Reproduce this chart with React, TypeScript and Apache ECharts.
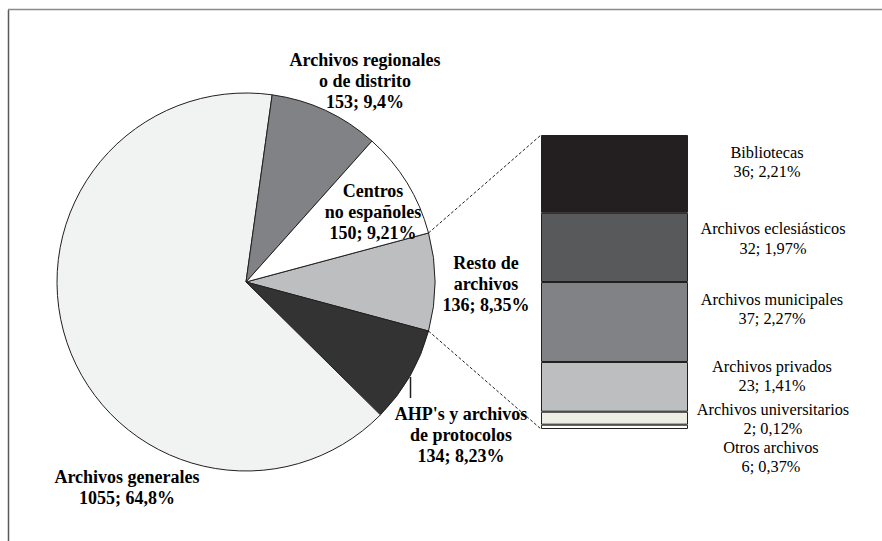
import React, { useEffect, useRef } from "react";
import * as echarts from "echarts";

// Pie (main) data, listed clockwise starting with the split-off slice
const pieNames = [
  "Resto de\narchivos",
  "AHP's y archivos\nde protocolos",
  "Archivos generales",
  "Archivos regionales\no de distrito",
  "Centros\nno españoles",
];
const pieValues = [136, 134, 1055, 153, 150];
const piePercents = ["8,35%", "8,23%", "64,8%", "9,4%", "9,21%"];
const pieColors = ["#BCBEC0", "#333333", "#F1F2F2", "#808285", "#FFFFFF"];

// Breakdown bar of "Resto de archivos", top to bottom
const barNames = [
  "Bibliotecas",
  "Archivos eclesiásticos",
  "Archivos municipales",
  "Archivos privados",
  "Otros archivos",
  "Archivos universitarios",
];
const barValues = [36, 32, 37, 23, 6, 2];
const barPercents = ["2,21%", "1,97%", "2,27%", "1,41%", "0,37%", "0,12%"];
const barColors = ["#231F20", "#58595B", "#808285", "#BCBEC0", "#EEEDE3", "#FFFFFF"];

// Layout (label anchor points, px)
const pieLabelPos = [
  [486, 284],
  [461, 435],
  [127, 487],
  [365, 81],
  [373, 212],
];
const barLabelPos = [
  [767, 162],
  [773, 238.5],
  [772, 309],
  [772, 376],
  [771, 457],
  [773, 419],
];

const FONT = "Liberation Serif";

export default function App() {
  const ref = useRef<HTMLDivElement>(null);

  useEffect(() => {
    document.body.style.margin = "0";
    if (!ref.current) return;
    const chart = echarts.init(ref.current, null, { renderer: "svg" });

    const cx = 246;
    const cy = 282;
    const r = 189;
    const total = pieValues.reduce((a, b) => a + b, 0);
    const restAngle = (pieValues[0] / total) * 360;
    const startAngle = restAngle / 2;

    const gridLeft = 541;
    const gridTop = 135;
    const gridW = 147;
    const gridH = 294;

    const a1 = (startAngle * Math.PI) / 180;
    const p1 = [cx + r * Math.cos(a1), cy - r * Math.sin(a1)];
    const p2 = [cx + r * Math.cos(-a1), cy - r * Math.sin(-a1)];

    const barSeries = barValues.map((v, i) => ({
      type: "bar",
      name: barNames[i],
      stack: "resto",
      data: [v],
      barWidth: "100%",
      itemStyle: { color: barColors[i], borderColor: "#231F20", borderWidth: 1 },
      emphasis: { disabled: true },
      label: {
        show: true,
        position: "right",
        formatter: () => `${barNames[i]}\n${v}; ${barPercents[i]}`,
        fontFamily: FONT,
        fontSize: 16.3,
        lineHeight: 19.5,
        color: "#000",
        align: "center",
      },
      labelLayout: () => ({
        x: barLabelPos[i][0],
        y: barLabelPos[i][1],
        align: "center",
        verticalAlign: "middle",
      }),
    }));

    chart.setOption({
      animation: false,
      backgroundColor: "#FFFFFF",
      textStyle: { fontFamily: FONT },
      grid: { left: gridLeft, top: gridTop, width: gridW, height: gridH },
      xAxis: { type: "category", data: ["Resto"], show: false },
      yAxis: { type: "value", min: 0, max: pieValues[0], inverse: true, show: false },
      series: [
        {
          type: "pie",
          center: [cx, cy],
          radius: r,
          startAngle,
          clockwise: true,
          avoidLabelOverlap: false,
          data: pieValues.map((v, i) => ({
            name: pieNames[i],
            value: v,
            itemStyle: { color: pieColors[i] },
          })),
          itemStyle: { borderColor: "#231F20", borderWidth: 1 },
          emphasis: { disabled: true },
          label: {
            show: true,
            position: "outside",
            formatter: (p: any) => `${pieNames[p.dataIndex]}\n${p.value}; ${piePercents[p.dataIndex]}`,
            fontFamily: FONT,
            fontWeight: "bold",
            fontSize: 18,
            lineHeight: 21,
            color: "#000",
            align: "center",
          },
          labelLine: { show: false },
          labelLayout: (p: any) => ({
            x: pieLabelPos[p.dataIndex][0],
            y: pieLabelPos[p.dataIndex][1],
            align: "center",
            verticalAlign: "middle",
          }),
        },
        ...barSeries,
      ],
      graphic: [
        {
          type: "line",
          shape: { x1: 8.5, y1: 10, x2: 8.5, y2: 541 },
          style: { stroke: "#5a5a5a", lineWidth: 1.5 },
        },
        {
          type: "line",
          shape: { x1: 8, y1: 9.5, x2: 882, y2: 9.5 },
          style: { stroke: "#8a8a8a", lineWidth: 1.5 },
        },
        {
          type: "line",
          shape: { x1: p1[0], y1: p1[1], x2: gridLeft, y2: gridTop },
          style: { stroke: "#231F20", lineWidth: 1, lineDash: [3, 2] },
        },
        {
          type: "line",
          shape: { x1: p2[0], y1: p2[1], x2: gridLeft, y2: gridTop + gridH },
          style: { stroke: "#231F20", lineWidth: 1, lineDash: [3, 2] },
        },
        {
          type: "line",
          shape: { x1: 410.5, y1: 377, x2: 410.5, y2: 398 },
          style: { stroke: "#231F20", lineWidth: 1.5 },
        },
      ],
    });

    return () => chart.dispose();
  }, []);

  return <div ref={ref} style={{ width: 882, height: 541 }} />;
}
